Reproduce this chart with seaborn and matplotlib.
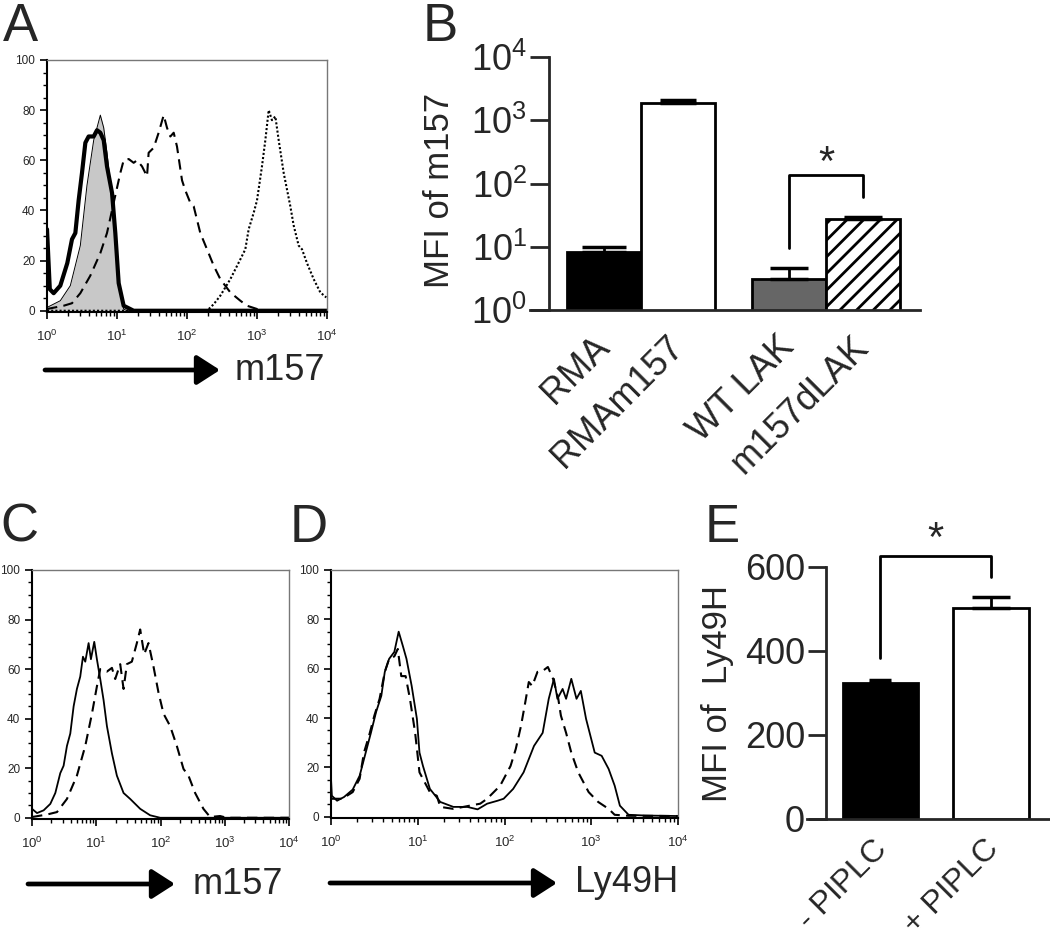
import numpy as np
import matplotlib
matplotlib.use('Agg')
import matplotlib.pyplot as plt
import matplotlib.ticker as mticker
import matplotlib.transforms as mtrans
from matplotlib.patches import FancyArrowPatch
import seaborn as sns

# ---- panel A : m157 histograms (log10 intensity, % of max) ----
a_iso_log = [0, 0.19, 0.333, 0.476, 0.571, 0.667, 0.762, 0.81, 0.857, 0.929, 0.976, 1.024, 1.095, 1.143, 4.0]
a_iso_cnt = [1.3, 4, 10, 26, 50, 68, 78, 73, 63, 44, 28, 10, 0.7, 0, 0]
a_thick_log = [0, 0.04, 0.095, 0.19, 0.29, 0.357, 0.405, 0.452, 0.5, 0.548, 0.595, 0.667, 0.714,
               0.762, 0.81, 0.857, 0.929, 0.976, 1.024, 1.095, 1.238, 4.0]
a_thick_cnt = [32.5, 8.6, 7, 10, 19, 28.5, 31, 44, 55, 67, 69.5, 69.5, 72, 71, 68, 57.6, 47, 31, 11, 2, 0, 0]
a_dash_log = [0, 0.238, 0.357, 0.476, 0.619, 0.762, 0.857, 0.952, 1.048, 1.095, 1.167, 1.238, 1.286, 1.357,
              1.429, 1.452, 1.524, 1.595, 1.667, 1.714, 1.762, 1.81, 1.857, 1.929, 1.976, 2.048, 2.095,
              2.19, 2.286, 2.381, 2.476, 2.619, 2.762, 2.857, 3.0, 3.143, 4.0]
a_dash_cnt = [0.7, 2, 3, 7, 14, 23, 31, 43, 55, 60, 60.5, 59, 60, 57.6, 53.6, 63, 65, 71, 78, 73, 69.5,
              71, 65.5, 52, 48, 43, 41.7, 31, 24.5, 18, 12.6, 7.3, 4, 2, 0.7, 0, 0]
a_dot_log = [0, 2.286, 2.381, 2.476, 2.619, 2.762, 2.833, 2.881, 2.952, 3.0, 3.071, 3.119, 3.167, 3.214,
             3.262, 3.31, 3.381, 3.476, 3.524, 3.595, 3.643, 3.714, 3.81, 3.905, 3.99]
a_dot_cnt = [0, 0, 2.6, 6, 12.6, 20.5, 24.5, 32.5, 39, 44, 57.6, 68, 80, 76, 77.5, 68, 55, 41.7, 34, 26,
             24.5, 19, 12.6, 7.3, 5.3]

# ---- panel B : MFI of m157 ----
b_groups = ['RMA', 'RMAm157', 'WT LAK', 'm157dLAK']
b_pos = [0, 1, 2.5, 3.5]
b_mfi = [8.3, 1870, 3.1, 27.4]
b_err = [1.6, 220, 1.5, 2.1]

# ---- panel C : m157 ----
c_solid_log = [0, 0.078, 0.181, 0.285, 0.363, 0.44, 0.492, 0.544, 0.596, 0.648, 0.699, 0.751, 0.793, 0.829,
               0.881, 0.917, 0.969, 1.01, 1.062, 1.114, 1.166, 1.244, 1.321, 1.425, 1.528, 1.684, 1.839,
               1.995, 4.0]
c_solid_cnt = [3.6, 1.9, 3, 5.6, 10, 18, 21, 29, 34, 45, 52, 57, 65, 63, 70.5, 64, 71, 64, 56, 47.5, 37,
               26, 17, 10, 7.6, 3.6, 1, 0, 0]
c_dash_log = [0, 0.233, 0.389, 0.544, 0.699, 0.829, 0.933, 1.01, 1.062, 1.166, 1.244, 1.295, 1.373, 1.425,
              1.477, 1.554, 1.632, 1.684, 1.746, 1.813, 1.891, 1.969, 2.047, 2.15, 2.254, 2.358, 2.435,
              2.539, 2.668, 2.772, 2.927, 3.031, 4.0]
c_dash_cnt = [0.3, 1.3, 2.3, 7.6, 17, 29, 42, 53, 60, 59, 60.5, 56, 62, 52, 62, 63, 70.5, 76, 66, 70.5, 61,
              50.5, 42, 37, 29, 19.7, 17, 10, 3.6, 0.3, 0.7, 0, 0]

# ---- panel D : Ly49H ----
d_solid_log = [0, 0.01, 0.07, 0.15, 0.25, 0.33, 0.4, 0.46, 0.52, 0.58, 0.62, 0.67, 0.73, 0.78, 0.83, 0.87,
               0.93, 0.99, 1.02, 1.06, 1.14, 1.26, 1.41, 1.57, 1.69, 1.8, 1.92, 1.99, 2.1, 2.22, 2.34,
               2.44, 2.51, 2.57, 2.61, 2.67, 2.71, 2.77, 2.83, 2.88, 2.94, 3.04, 3.12, 3.2, 3.27, 3.33,
               3.43, 3.62, 4.0]
d_solid_cnt = [15.4, 8.5, 6.5, 8, 11, 16.6, 26, 34, 42.5, 49, 58.7, 64, 66.8, 75, 69, 64, 53, 39.7, 26,
               20.6, 11.3, 6, 4, 4, 3, 5.3, 6.5, 7.3, 11.3, 18, 28.7, 34, 47.8, 55.9, 47.8, 51.8, 47.8,
               55.9, 47.8, 51, 39.7, 26, 24.7, 19.4, 12.6, 4.5, 0.8, 0.5, 0.3]
d_dash_log = [0, 0.13, 0.25, 0.33, 0.38, 0.44, 0.5, 0.56, 0.62, 0.67, 0.73, 0.77, 0.81, 0.86, 0.91, 0.97,
              1.02, 1.14, 1.22, 1.26, 1.41, 1.6, 1.72, 1.8, 1.95, 2.07, 2.13, 2.19, 2.24, 2.28, 2.32,
              2.38, 2.44, 2.5, 2.56, 2.62, 2.65, 2.71, 2.77, 2.85, 2.97, 3.08, 3.2, 3.27, 3.43, 4.0]
d_dash_cnt = [7.3, 7.3, 10, 15.4, 26, 33, 41, 47.8, 58.7, 64, 65, 68, 57, 57, 47.8, 34, 18, 10, 8.5, 4,
              3.2, 4.5, 5.3, 7.3, 12.6, 20.6, 27.5, 36.8, 46.5, 54.6, 53, 58.7, 59.1, 60.7, 55.9, 47.8,
              41, 34, 26, 18, 10, 6, 3.2, 0.8, 0.4, 0.3]

# ---- panel E : MFI of Ly49H ----
e_groups = ['- PIPLC', '+ PIPLC']
e_mfi = [324, 502]
e_err = [7, 27]

sns.set_style('ticks')
plt.rcParams['font.family'] = ['Liberation Sans', 'DejaVu Sans']
plt.rcParams['mathtext.fontset'] = 'custom'
plt.rcParams['mathtext.rm'] = 'Liberation Sans'
plt.rcParams['mathtext.default'] = 'rm'
plt.rcParams['hatch.linewidth'] = 2

W, H = 1050, 944
fig = plt.figure(figsize=(W / 100, H / 100), dpi=100)


def box(x0, y0, x1, y1):
    # pixel box (top-left origin) -> figure fraction rect
    return [x0 / W, 1 - y1 / H, (x1 - x0) / W, (y1 - y0) / H]


def flow_axes(rect):
    ax = fig.add_axes(rect)
    ax.set_xscale('log')
    ax.set_xlim(1, 1e4)
    ax.set_ylim(-0.5, 100)
    ax.set_yticks([0, 20, 40, 60, 80, 100])
    ax.yaxis.set_minor_locator(mticker.MultipleLocator(5))
    ax.xaxis.set_major_locator(mticker.FixedLocator([1, 10, 100, 1000, 10000]))
    ax.set_xticklabels(['$10^{%d}$' % i for i in range(5)])
    ax.xaxis.set_minor_locator(mticker.LogLocator(subs=range(2, 10)))
    ax.xaxis.set_minor_formatter(mticker.NullFormatter())
    for s in ['top', 'right']:
        ax.spines[s].set_color('#777777')
        ax.spines[s].set_linewidth(1)
    for s in ['left', 'bottom']:
        ax.spines[s].set_color('black')
        ax.spines[s].set_linewidth(1.5)
    ax.tick_params(which='major', length=5, width=1.2, labelsize=8.5, color='black')
    ax.tick_params(which='minor', length=3, width=1, color='black')
    ax.tick_params(axis='x', which='major', labelsize=9.5, pad=7)
    ax.set_xlabel('')
    ax.set_ylabel('')
    return ax


def hist_line(ax, logs, cnts, **kw):
    sns.lineplot(x=10 ** np.array(logs), y=cnts, color='black', ax=ax, **kw)


def arrow(x0, x1, y):
    a = FancyArrowPatch((x0 / W, 1 - y / H), (x1 / W, 1 - y / H), transform=fig.transFigure,
                        arrowstyle='-|>,head_length=0.7,head_width=0.45', mutation_scale=20,
                        lw=3.4, color='black', shrinkA=0, shrinkB=0)
    fig.add_artist(a)


def shift_labels(ax, dx_px):
    off = mtrans.ScaledTranslation(dx_px / 100, 0, fig.dpi_scale_trans)
    for lab in ax.get_xticklabels():
        lab.set_transform(lab.get_transform() + off)


# panel A
axA = flow_axes(box(47, 60, 327, 312))
x_iso = 10 ** np.array(a_iso_log)
axA.fill_between(x_iso, a_iso_cnt, color='#c8c8c8', lw=0)
hist_line(axA, a_iso_log, a_iso_cnt, lw=0.7)
hist_line(axA, a_dash_log, a_dash_cnt, lw=1.5, linestyle=(0, (5, 3)))
hist_line(axA, a_dot_log, a_dot_cnt, lw=1.5, linestyle=(0, (1, 1)))
hist_line(axA, a_thick_log, a_thick_cnt, lw=3)
arrow(45, 220, 370)
fig.text(235 / W, 1 - 370 / H, 'm157', fontsize=26, va='center', ha='left')

# panel C
axC = flow_axes(box(32, 570, 289, 819))
hist_line(axC, c_solid_log, c_solid_cnt, lw=1.3)
hist_line(axC, c_dash_log, c_dash_cnt, lw=1.5, linestyle=(0, (5, 3)))
arrow(28, 175, 884)
fig.text(193 / W, 1 - 884 / H, 'm157', fontsize=26, va='center', ha='left')

# panel D
axD = flow_axes(box(331, 570, 678, 818))
hist_line(axD, d_solid_log, d_solid_cnt, lw=1.3)
hist_line(axD, d_dash_log, d_dash_cnt, lw=1.5, linestyle=(0, (5, 3)))
arrow(330, 557, 883)
fig.text(575 / W, 1 - 883 / H, 'Ly49H', fontsize=26, va='center', ha='left')

# panel B
axB = fig.add_axes(box(530, 57, 920, 310))
sns.barplot(x=b_pos, y=b_mfi, hue=b_groups, native_scale=True, dodge=False, width=1.0,
            palette=['black', 'white', '#666666', 'white'], edgecolor='black', linewidth=2,
            legend=False, ax=axB)
for p in axB.patches:
    if abs(p.get_x() + p.get_width() / 2 - b_pos[3]) < 0.01:
        p.set_hatch('//')
for xp, m, e, cs in zip(b_pos, b_mfi, b_err, [16, 13, 14, 14]):
    axB.errorbar([xp], [m], yerr=[[0], [e]], fmt='none', ecolor='black', elinewidth=2,
                 capsize=cs, capthick=2.5)
axB.set_yscale('log')
axB.set_ylim(1, 1e4)
axB.set_xlim(-1.0, 4.27)
axB.set_yticks([1, 10, 100, 1000, 10000])
axB.set_yticklabels(['$10^{%d}$' % i for i in range(5)])
axB.yaxis.set_minor_locator(mticker.LogLocator(subs=range(2, 10)))
axB.yaxis.set_minor_formatter(mticker.NullFormatter())
axB.spines['left'].set_position(('data', -0.74))
axB.spines['left'].set_linewidth(2)
axB.spines['bottom'].set_linewidth(2)
sns.despine(ax=axB)
axB.tick_params(axis='y', which='major', length=14, width=2, labelsize=26, pad=2)
axB.tick_params(axis='y', which='minor', length=9, width=1.5)
axB.set_xticks(b_pos)
axB.set_xticklabels(b_groups, rotation=45, ha='right', va='top', rotation_mode='anchor', fontsize=26)
axB.tick_params(axis='x', length=0, pad=14)
shift_labels(axB, -12)
axB.set_ylabel('MFI of m157', fontsize=25)
axB.yaxis.set_label_coords(-0.19, 0.474)
axB.set_xlabel('')
axB.plot([b_pos[2], b_pos[2], b_pos[3], b_pos[3]], [9.6, 135, 135, 61], color='black', lw=2, clip_on=False)
axB.text((b_pos[2] + b_pos[3]) / 2, 100, '*', fontsize=30, ha='center', va='bottom')

# panel E
axE = fig.add_axes(box(807, 567, 1050, 819))
sns.barplot(x=e_groups, y=e_mfi, hue=e_groups, palette=['black', 'white'], width=0.68,
            edgecolor='black', linewidth=2, legend=False, ax=axE)
for xp, m, e, cs in zip([0, 1], e_mfi, e_err, [8, 14]):
    axE.errorbar([xp], [m], yerr=[[0], [e]], fmt='none', ecolor='black', elinewidth=2,
                 capsize=cs, capthick=2.5)
axE.set_ylim(0, 600)
axE.set_xlim(-0.66, 1.53)
axE.set_yticks([0, 200, 400, 600])
axE.spines['left'].set_position(('data', -0.49))
axE.spines['left'].set_linewidth(2)
axE.spines['bottom'].set_linewidth(2)
sns.despine(ax=axE)
axE.tick_params(axis='y', length=13, width=2, labelsize=26, pad=2)
axE.set_xticks([0, 1])
axE.set_xticklabels(e_groups, rotation=45, ha='right', va='top', rotation_mode='anchor', fontsize=23)
axE.tick_params(axis='x', length=0, pad=11)
shift_labels(axE, -8)
axE.set_ylabel('MFI of  Ly49H', fontsize=25)
axE.yaxis.set_label_coords(-0.30, 0.5)
axE.set_xlabel('')
axE.plot([0, 0, 1, 1], [383, 626, 626, 576], color='black', lw=2, clip_on=False)
axE.text(0.5, 616, '*', fontsize=30, ha='center', va='bottom')

# panel letters
for letter, x, y in [('A', 3, 2), ('B', 423, 2), ('C', 0, 503), ('D', 290, 503), ('E', 705, 503)]:
    fig.text(x / W, 1 - y / H, letter, fontsize=38, ha='left', va='top')

fig.savefig('out.png', dpi=100)
